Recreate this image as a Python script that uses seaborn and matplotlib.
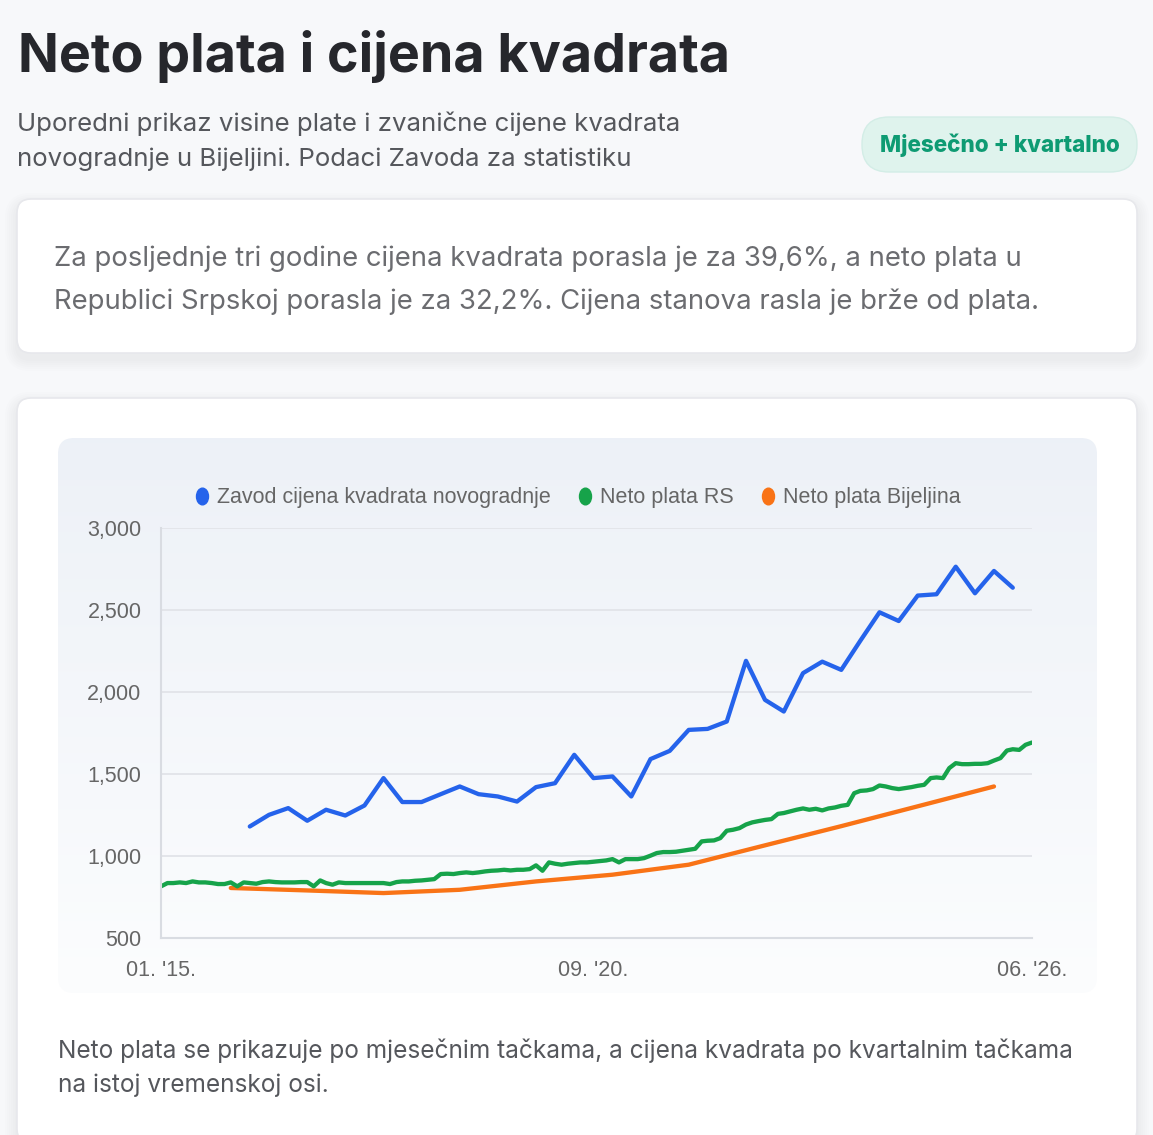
import numpy as np
import pandas as pd
import seaborn as sns
import matplotlib.pyplot as plt
from matplotlib.patches import FancyBboxPatch
from matplotlib.lines import Line2D
from matplotlib.path import Path

W, H = 1153, 1135

# neto plata RS, mjesecno od 01.2015.
plata_rs = [815, 835, 835, 839, 835, 845, 839, 839, 835, 829, 829, 839,
            815, 839, 835, 831, 841, 845, 841, 839, 839, 839, 841, 841,
            815, 851, 835, 825, 839, 835, 835, 835, 835, 835, 835, 835,
            829, 841, 845, 845, 849, 851, 855, 859, 890, 892, 890, 896,
            900, 896, 900, 906, 910, 912, 916, 912, 916, 916, 920, 943,
            910, 961, 953, 947, 953, 957, 961, 961, 965, 969, 973, 981,
            961, 981, 981, 981, 987, 1002, 1018, 1024, 1024, 1026, 1032, 1038,
            1044, 1089, 1093, 1095, 1109, 1154, 1160, 1170, 1192, 1205, 1213, 1220,
            1225, 1257, 1262, 1272, 1282, 1290, 1282, 1288, 1278, 1290, 1296, 1306,
            1312, 1383, 1397, 1400, 1408, 1430, 1424, 1414, 1408, 1414, 1420, 1428,
            1434, 1475, 1479, 1475, 1536, 1566, 1560, 1560, 1562, 1562, 1566, 1582,
            1597, 1643, 1651, 1647, 1678, 1692]

# neto plata Bijeljina, godisnje (decembar 2015. - 2025.)
plata_bn = [805, 790, 774, 794, 845, 886, 947, 1065, 1182, 1303, 1424]

# zavod - cijena kvadrata novogradnje, kvartalno od 03.2016.
cijena_m2 = [1180, 1251, 1292, 1215, 1282, 1247, 1308, 1475, 1329, 1329, 1377,
             1424, 1377, 1363, 1332, 1420, 1444, 1617, 1475, 1485, 1363, 1591,
             1641, 1769, 1775, 1820, 2190, 1952, 1881, 2115, 2185, 2135, 2312,
             2486, 2433, 2588, 2596, 2764, 2602, 2738, 2636]

nazivi = ['Zavod cijena kvadrata novogradnje', 'Neto plata RS', 'Neto plata Bijeljina']
boje = ['#2563eb', '#16a34a', '#f97316']

x_tick_datumi = ['2015-01-01', '2020-09-01', '2026-06-01']
x_tick_labele = ["01. '15.", "09. '20.", "06. '26."]
y_tickovi = [500, 1000, 1500, 2000, 2500, 3000]

mjeseci_rs = pd.date_range('2015-01-01', periods=len(plata_rs), freq='MS')
mjeseci_bn = pd.date_range('2015-12-01', periods=len(plata_bn), freq='12MS')
kvartali = pd.date_range('2016-03-01', periods=len(cijena_m2), freq='3MS')

sns.set_style('white')
plt.rcParams['font.family'] = ['Inter', 'DejaVu Sans']

fig = plt.figure(figsize=(W / 100, H / 100), dpi=100)
fig.patch.set_facecolor('#f7f8fa')

# pozadina u pikselima
bg = fig.add_axes([0, 0, 1, 1])
bg.set_xlim(0, W)
bg.set_ylim(H, 0)
bg.axis('off')


def kartica(x, y, w, h, r, fc, ec, sjenka=True):
    if sjenka:
        for i in range(1, 7):
            bg.add_patch(FancyBboxPatch((x - i * 2, y - i * 2 + 6), w + i * 4, h + i * 4,
                                        boxstyle=f'round,pad=0,rounding_size={r + i * 2}',
                                        fc='#9aa0ab', ec='none', alpha=0.018, zorder=1))
    p = FancyBboxPatch((x, y), w, h, boxstyle=f'round,pad=0,rounding_size={r}',
                       fc=fc, ec=ec, lw=1.2, zorder=2)
    bg.add_patch(p)
    return p


# naslov i podnaslov
bg.text(18, 72, 'Neto plata i cijena kvadrata', fontsize=38.7, weight='bold',
        color='#26272c', va='baseline', zorder=5)
bg.text(17, 131, 'Uporedni prikaz visine plate i zvanične cijene kvadrata',
        fontsize=18.6, color='#55575c', va='baseline', zorder=5)
bg.text(17, 166, 'novogradnje u Bijeljini. Podaci Zavoda za statistiku',
        fontsize=18.6, color='#55575c', va='baseline', zorder=5)

# bedz
bg.add_patch(FancyBboxPatch((862, 117), 275, 55, boxstyle='round,pad=0,rounding_size=27',
                            fc='#dff3ed', ec='#d3ede6', lw=1, zorder=2))
bg.text(1000, 145, 'Mjesečno + kvartalno', fontsize=16.2, weight='heavy',
        color='#0e9b73', ha='center', va='center', zorder=5)

# kartica sa zakljuckom
kartica(17, 199, 1120, 154, 14, 'white', '#e7e8ec')
bg.text(54, 266, 'Za posljednje tri godine cijena kvadrata porasla je za 39,6%, a neto plata u',
        fontsize=19.8, color='#6b6c70', va='baseline', zorder=5)
bg.text(54, 309, 'Republici Srpskoj porasla je za 32,2%. Cijena stanova rasla je brže od plata.',
        fontsize=19.8, color='#6b6c70', va='baseline', zorder=5)

# kartica grafika
kartica(17, 398, 1120, 745, 14, 'white', '#e7e8ec')
panel = FancyBboxPatch((58, 438), 1039, 555, boxstyle='round,pad=0,rounding_size=16',
                       fc='none', ec='none', zorder=3)
bg.add_patch(panel)
c_top = np.array([0.929, 0.945, 0.969])
c_bot = np.array([0.988, 0.992, 0.996])
t = np.linspace(0, 1, 256)[:, None, None]
grad = c_top * (1 - t) + c_bot * t
img = bg.imshow(np.repeat(grad, 2, axis=1), extent=[58, 1097, 993, 438],
                aspect='auto', zorder=3, interpolation='bilinear')
img.set_clip_path(panel)
bg.set_xlim(0, W)
bg.set_ylim(H, 0)

bg.text(58, 1058, 'Neto plata se prikazuje po mjesečnim tačkama, a cijena kvadrata po kvartalnim tačkama',
        fontsize=17.6, color='#55575c', va='baseline', zorder=5)
bg.text(58, 1092, 'na istoj vremenskoj osi.',
        fontsize=17.6, color='#55575c', va='baseline', zorder=5)

# grafik
ax = fig.add_axes([161 / W, 1 - 938 / H, 871 / W, 410 / H])
ax.set_facecolor('none')
ax.set_zorder(4)

sns.lineplot(x=mjeseci_bn, y=plata_bn, ax=ax, color=boje[2], lw=3.1, legend=False)
sns.lineplot(x=mjeseci_rs, y=plata_rs, ax=ax, color=boje[1], lw=3.1, legend=False)
sns.lineplot(x=kvartali, y=cijena_m2, ax=ax, color=boje[0], lw=3.1, legend=False)

ax.set_ylim(500, 3000)
ax.set_xlim(pd.Timestamp('2015-01-01'), pd.Timestamp('2026-06-01'))
ax.set_yticks(y_tickovi)
ax.set_yticklabels([f'{v:,}' for v in y_tickovi])
ax.set_xticks(pd.to_datetime(x_tick_datumi))
ax.set_xticklabels(x_tick_labele)
ax.set_xlabel('')
ax.set_ylabel('')
ax.grid(axis='y', color='#e3e5ea', lw=1.4)
ax.grid(axis='x', visible=False)
for s in ['top', 'right']:
    ax.spines[s].set_visible(False)
for s in ['left', 'bottom']:
    ax.spines[s].set_color('#d9dce2')
    ax.spines[s].set_linewidth(1.5)
ax.tick_params(axis='y', length=10, width=1.2, color='#e3e5ea', pad=4,
               labelsize=15.5, labelcolor='#666666')
ax.tick_params(axis='x', length=0, pad=16, labelsize=15.5, labelcolor='#666666')
for lab in ax.get_xticklabels() + ax.get_yticklabels():
    lab.set_family(['Liberation Sans', 'DejaVu Sans'])

# legenda
krug = Path.unit_circle()
elipsa = Path(krug.vertices * np.array([0.72, 1.0]), krug.codes)
rucke = [Line2D([], [], ls='none', marker=elipsa, ms=12, mfc=b, mec=b) for b in boje]
leg = fig.legend(rucke, nazivi, loc='center', bbox_to_anchor=(576 / W, 1 - 498 / H),
                 ncol=3, frameon=False, handletextpad=0.2, columnspacing=1.1,
                 handlelength=1.0, prop={'family': ['Liberation Sans'], 'size': 15.5})
for tx in leg.get_texts():
    tx.set_color('#666666')

fig.savefig('out.png', dpi=100, facecolor=fig.get_facecolor())
